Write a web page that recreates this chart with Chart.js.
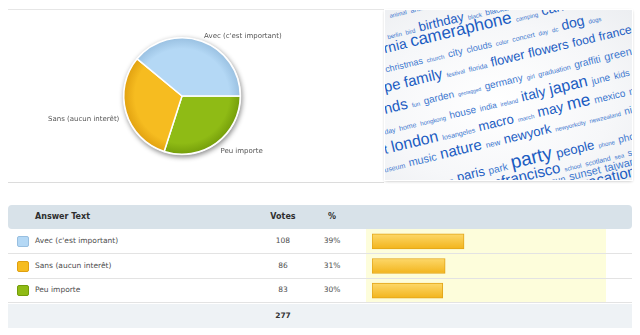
<!DOCTYPE html>
<html>
<head>
<meta charset="utf-8">
<script src="https://cdn.jsdelivr.net/npm/chart.js@4.4.1/dist/chart.umd.min.js"></script>
<style>
  html, body { margin: 0; padding: 0; background: #fff; }
  body { width: 640px; height: 335px; position: relative; overflow: hidden; font-family: "DejaVu Sans", Verdana, sans-serif; }
  #piePanel { position: absolute; left: 8px; top: 9px; width: 376px; height: 172px; border-top: 1px solid #e6e6e6; border-bottom: 1px solid #dcdcdc; }
  #pieBox { position: absolute; left: 10px; top: 10px; width: 370px; height: 172px; }
  #tags { position: absolute; left: 385px; top: 10px; width: 247px; height: 170px; overflow: hidden;
          background: radial-gradient(ellipse at 45% 55%, #ffffff 0%, #f6f7f9 60%, #eceef1 100%);
          box-shadow: 0 0 0 1px #fff, 0 1px 3px rgba(0,0,0,0.3); }
  #tagInner { position: absolute; left: 0; top: 0; width: 0; height: 0; transform: rotate(-13.5deg); transform-origin: 0 0; }
  .tagline { position: absolute; display: flex; align-items: baseline; white-space: nowrap; font-family: "Liberation Sans", Arial, sans-serif; }
  .tagline span { line-height: 1; margin-right: 4px; }

  .hdr { position: absolute; left: 8px; top: 205px; width: 624px; height: 24px; background: #d8e2e9; border-radius: 4px; }
  .row { position: absolute; left: 8px; width: 624px; height: 24px; border-bottom: 1px solid #e3e3e3; }
  .foot { position: absolute; left: 8px; top: 304px; width: 624px; height: 24px; background: #eef2f5; }
  .cell { position: absolute; top: 0; height: 24px; line-height: 24px; font-size: 7.5px; color: #4d4d4d; white-space: nowrap; }
  .hdr .cell { font-size: 8px; font-weight: bold; color: #2e2e2e; }
  .foot .cell { font-weight: bold; color: #333; }
  .c-ans { left: 27px; }
  .c-votes { left: 255px; width: 40px; text-align: center; }
  .c-pct { left: 304px; width: 40px; text-align: center; }
  .swatch { position: absolute; left: 9px; top: 7px; width: 12px; height: 11px; border-radius: 2px; box-sizing: border-box; }
  #hilite { position: absolute; left: 366px; top: 229px; width: 240px; height: 74px; background: #fdfddb; }
  #barBox { position: absolute; left: 372px; top: 229px; width: 236px; height: 74px; }
</style>
</head>
<body>
<div id="piePanel"></div>
<div id="pieBox"><canvas id="pie"></canvas></div>
<div id="tags"><div id="tagInner"></div></div>

<div id="hilite"></div>
<div class="hdr">
  <span class="cell c-ans">Answer Text</span>
  <span class="cell c-votes">Votes</span>
  <span class="cell c-pct">%</span>
</div>
<div id="rows"></div>
<div class="foot"><span class="cell c-votes" id="total"></span></div>
<div id="barBox"><canvas id="bars"></canvas></div>

<script>
// poll results
const answers = ["Avec (c'est important)", "Sans (aucun interêt)", "Peu importe"];
const votes = [108, 86, 83];
const percents = [39, 31, 30];
const totalVotes = 277;

const answerColors = ['#b4d8f5', '#f6bc20', '#8fbb15'];
const edgeColors = ['#98bfe0', '#e0a010', '#739c0a'];

// flickr tag cloud picture on the right (words per tilted line, font size)
const tagLines = [
  { dy: 3, indent: 5, words: [["animal", 6], ["animals", 7], ["architecture", 9], ["art", 12], ["august", 7], ["australia", 10]] },
  { dy: 5, indent: 3, words: [["berlin", 6], ["bird", 6], ["birthday", 13], ["black", 6], ["blackandwhite", 8], ["blue", 12]] },
  { dy: 0, hide: "califo", words: [["california", 14], ["cameraphone", 17], ["camping", 6], ["canada", 14], ["canon", 12]] },
  { dy: 0, indent: 1, words: [["christmas", 9], ["church", 6], ["city", 10], ["clouds", 9], ["color", 6], ["concert", 7], ["day", 6], ["dc", 6], ["dog", 14], ["dogs", 6]] },
  { dy: 0, hide: "euro", words: [["europe", 15], ["family", 15], ["festival", 6], ["florida", 7], ["flower", 13], ["flowers", 13], ["food", 12], ["france", 12]] },
  { dy: 3, hide: "frie", words: [["friends", 15], ["fun", 6], ["garden", 10], ["geotagged", 5], ["germany", 10], ["girl", 6], ["graduation", 7], ["graffiti", 10], ["green", 11]] },
  { dy: 5, hide: "holi", words: [["holiday", 7], ["home", 7], ["hongkong", 6], ["house", 10], ["india", 8], ["ireland", 6], ["italy", 14], ["japan", 16], ["june", 10], ["kids", 9]] },
  { dy: 5, hide: "ligh", words: [["light", 13], ["london", 16], ["losangeles", 7], ["macro", 13], ["march", 6], ["may", 14], ["me", 17], ["mexico", 10], ["mobile", 10]] },
  { dy: 4, hide: "m", words: [["museum", 7], ["music", 11], ["nature", 15], ["new", 8], ["newyork", 13], ["newyorkcity", 6], ["newzealand", 6], ["night", 10]] },
  { dy: 12, indent: 52, words: [["ocean", 7], ["paris", 13], ["park", 10], ["party", 19], ["people", 13], ["phone", 6], ["photo", 10]] },
  { dy: 8, indent: 60, words: [["river", 7], ["rock", 8], ["sanfrancisco", 15], ["school", 6], ["scotland", 7], ["sea", 6], ["seattle", 9]] },
  { dy: 0, indent: 128, words: [["summer", 11], ["sun", 9], ["sunset", 11], ["taiwan", 11], ["texas", 6]] },
  { dy: -8, indent: 150, words: [["trip", 9], ["uk", 10], ["usa", 11], ["vacation", 15]] }
];

// ---- tag cloud ----
const measureCtx = document.createElement('canvas').getContext('2d');
const ANG = 13.5 * Math.PI / 180;
const tagInner = document.getElementById('tagInner');
tagLines.forEach((ln, k) => {
  const yEdge = 6 + 19 * k + ln.dy;
  const v = Math.cos(ANG) * yEdge;
  const uEdge = -Math.sin(ANG) * yEdge;
  let indent = ln.indent || 0;
  if (ln.hide) {
    measureCtx.font = ln.words[0][1] + 'px "Liberation Sans"';
    indent = -measureCtx.measureText(ln.hide).width;
  }
  const maxSize = Math.max(...ln.words.map(w => w[1]));
  const div = document.createElement('div');
  div.className = 'tagline';
  div.style.left = (uEdge + indent) + 'px';
  div.style.top = (v - 0.8465 * maxSize) + 'px';
  ln.words.forEach(([word, size]) => {
    const s = document.createElement('span');
    s.textContent = word;
    s.style.fontSize = size + 'px';
    s.style.color = size >= 12 ? '#1b5cc2' : '#3d78cf';
    div.appendChild(s);
  });
  tagInner.appendChild(div);
});

// ---- table ----
const rowsEl = document.getElementById('rows');
answers.forEach((a, i) => {
  const row = document.createElement('div');
  row.className = 'row';
  row.style.top = (229 + i * 24.7) + 'px';
  row.innerHTML =
    `<div class="swatch" style="background:${answerColors[i]};border:1px solid ${edgeColors[i]}"></div>` +
    `<span class="cell c-ans">${a}</span>` +
    `<span class="cell c-votes">${votes[i]}</span>` +
    `<span class="cell c-pct">${percents[i]}%</span>`;
  rowsEl.appendChild(row);
});
document.getElementById('total').textContent = totalVotes;

// ---- pie ----
// drawn clockwise from 3 o'clock: green, yellow, blue
const order = [2, 1, 0];

function sliceFill(c) {
  const i = order[c.dataIndex];
  const area = c.chart.chartArea;
  if (!area) return answerColors[i];
  const cx = (area.left + area.right) / 2;
  const cy = (area.top + area.bottom) / 2;
  const r = Math.min(area.width, area.height) / 2;
  const g = c.chart.ctx.createRadialGradient(cx, cy, 0, cx, cy, r);
  g.addColorStop(0, answerColors[i]);
  g.addColorStop(0.8, answerColors[i]);
  g.addColorStop(1, edgeColors[i]);
  return g;
}

const pieShadow = {
  id: 'pieShadow',
  beforeDatasetsDraw(chart) {
    const arc = chart.getDatasetMeta(0).data[0];
    if (!arc) return;
    const ctx = chart.ctx;
    ctx.save();
    ctx.shadowColor = 'rgba(0,0,0,0.45)';
    ctx.shadowBlur = 5;
    ctx.shadowOffsetX = 1;
    ctx.shadowOffsetY = 2;
    ctx.beginPath();
    ctx.arc(arc.x, arc.y, arc.outerRadius + 1, 0, Math.PI * 2);
    ctx.fillStyle = '#f2f2f2';
    ctx.fill();
    ctx.restore();
  }
};

const pieLabels = {
  id: 'pieLabels',
  afterDatasetsDraw(chart) {
    const ctx = chart.ctx;
    ctx.save();
    ctx.font = '7px "DejaVu Sans"';
    ctx.fillStyle = '#555';
    ctx.textBaseline = 'middle';
    chart.getDatasetMeta(0).data.forEach((arc, j) => {
      const mid = (arc.startAngle + arc.endAngle) / 2;
      const r = arc.outerRadius + 7;
      const x = arc.x + Math.cos(mid) * r;
      const y = arc.y + Math.sin(mid) * r + 2 + (Math.cos(mid) < 0 ? 3 : 0);
      ctx.textAlign = Math.cos(mid) >= 0 ? 'left' : 'right';
      ctx.fillText(chart.data.labels[j], x, y);
    });
    ctx.restore();
  }
};

new Chart(document.getElementById('pie'), {
  type: 'pie',
  data: {
    labels: order.map(i => answers[i]),
    datasets: [{
      data: order.map(i => votes[i]),
      backgroundColor: sliceFill,
      borderColor: '#ffffff',
      borderWidth: 1.5
    }]
  },
  options: {
    responsive: true,
    maintainAspectRatio: false,
    animation: false,
    events: [],
    rotation: 90,
    layout: { padding: { left: 0, right: 26, top: 27, bottom: 27 } },
    plugins: { legend: { display: false }, tooltip: { enabled: false } }
  },
  plugins: [pieShadow, pieLabels]
});

// ---- result bars ----
function barFill(c) {
  const ys = c.chart.scales.y;
  if (!ys || ys.top === undefined) return '#f6c235';
  const py = ys.getPixelForValue(c.dataIndex);
  const g = c.chart.ctx.createLinearGradient(0, py - 7.5, 0, py + 7.5);
  g.addColorStop(0, '#fdd86a');
  g.addColorStop(1, '#f2b41c');
  return g;
}

new Chart(document.getElementById('bars'), {
  type: 'bar',
  data: {
    labels: answers,
    datasets: [{
      data: percents,
      backgroundColor: barFill,
      borderColor: '#e2a519',
      borderWidth: 1,
      borderSkipped: false,
      barThickness: 15
    }]
  },
  options: {
    indexAxis: 'y',
    responsive: true,
    maintainAspectRatio: false,
    animation: false,
    events: [],
    layout: { padding: 0 },
    scales: {
      x: { display: false, min: 0, max: 100 },
      y: { display: false }
    },
    plugins: { legend: { display: false }, tooltip: { enabled: false } }
  }
});
</script>
</body>
</html>
